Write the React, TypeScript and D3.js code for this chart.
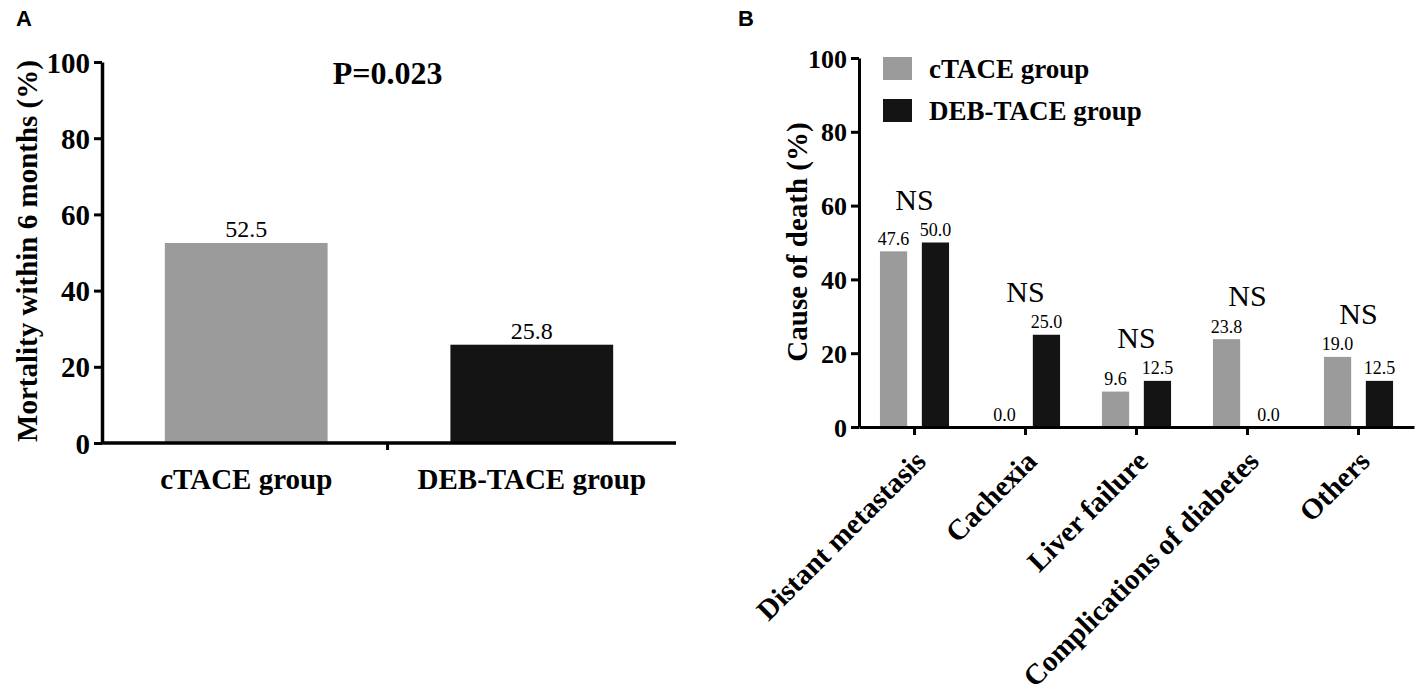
import * as d3 from 'd3';
import { useEffect, useRef } from 'react';

// Panel A
const groupsA = ['cTACE group', 'DEB-TACE group'];
const mortalityA = [52.5, 25.8];

// Panel B
const causesB = ['Distant metastasis', 'Cachexia', 'Liver failure', 'Complications of diabetes', 'Others'];
const seriesB = ['cTACE group', 'DEB-TACE group'];
const ctaceB = [47.6, 0.0, 9.6, 23.8, 19.0];
const debB = [50.0, 25.0, 12.5, 0.0, 12.5];
const sigB = ['NS', 'NS', 'NS', 'NS', 'NS'];

const yTicks = [0, 20, 40, 60, 80, 100];
const colors = ['#9b9b9b', '#141414'];
const serif = '"Liberation Serif", "Times New Roman", serif';

const App = () => {
  const ref = useRef<SVGSVGElement | null>(null);

  useEffect(() => {
    const svg = d3.select(ref.current).attr('width', 1417).attr('height', 697);
    svg.selectAll('*').remove();
    svg.append('rect').attr('width', 1417).attr('height', 697).attr('fill', '#fff');

    // panel letters
    svg.append('text').attr('x', 16).attr('y', 26).text('A')
      .attr('font-family', '"Liberation Sans", Arial, sans-serif').attr('font-weight', 'bold').attr('font-size', 22);
    svg.append('text').attr('x', 738).attr('y', 26).text('B')
      .attr('font-family', '"Liberation Sans", Arial, sans-serif').attr('font-weight', 'bold').attr('font-size', 22);

    // ---------- Panel A ----------
    const a = svg.append('g');
    const yA = d3.scaleLinear().domain([0, 100]).range([443, 62]);
    const xA = d3.scaleBand().domain(groupsA).range([102, 676]).paddingInner(0.43).paddingOuter(0.22);

    a.selectAll('rect.bar')
      .data(mortalityA)
      .enter()
      .append('rect')
      .attr('x', (_, i) => xA(groupsA[i])!)
      .attr('width', xA.bandwidth())
      .attr('y', d => yA(d))
      .attr('height', d => yA(0) - yA(d))
      .attr('fill', (_, i) => colors[i]);

    a.selectAll('text.val')
      .data(mortalityA)
      .enter()
      .append('text')
      .attr('x', (_, i) => xA(groupsA[i])! + xA.bandwidth() / 2)
      .attr('y', d => yA(d) - 6)
      .attr('text-anchor', 'middle')
      .attr('font-family', serif)
      .attr('font-size', 24)
      .text(d => d.toFixed(1));

    const yAxisA = a.append('g').attr('transform', 'translate(102,0)')
      .call(d3.axisLeft(yA).tickValues(yTicks).tickSize(8).tickSizeOuter(0));
    yAxisA.select('.domain').attr('stroke-width', 3.5);
    yAxisA.selectAll('line').attr('stroke-width', 3);
    yAxisA.selectAll('text').attr('font-family', serif).attr('font-weight', 'bold').attr('font-size', 29).attr('dx', -1).attr('dy', '0.35em');

    a.append('line').attr('x1', 102).attr('x2', 676).attr('y1', 443).attr('y2', 443)
      .attr('stroke', '#000').attr('stroke-width', 3.5);
    a.append('line').attr('x1', 102 + xA.step()).attr('x2', 102 + xA.step()).attr('y1', 443).attr('y2', 450)
      .attr('stroke', '#000').attr('stroke-width', 3);

    a.selectAll('text.cat')
      .data(groupsA)
      .enter()
      .append('text')
      .attr('x', d => xA(d)! + xA.bandwidth() / 2)
      .attr('y', 489)
      .attr('text-anchor', 'middle')
      .attr('font-family', serif)
      .attr('font-weight', 'bold')
      .attr('font-size', 29)
      .text(d => d);

    a.append('text')
      .attr('transform', 'translate(37,251) rotate(-90)')
      .attr('text-anchor', 'middle')
      .attr('font-family', serif)
      .attr('font-weight', 'bold')
      .attr('font-size', 29)
      .text('Mortality within 6 months (%)');

    a.append('text')
      .attr('x', 102 + xA.step())
      .attr('y', 84)
      .attr('text-anchor', 'middle')
      .attr('font-family', serif)
      .attr('font-weight', 'bold')
      .attr('font-size', 32)
      .text('P=0.023');

    // ---------- Panel B ----------
    const b = svg.append('g');
    const yB = d3.scaleLinear().domain([0, 100]).range([427, 58]);
    const xB = d3.scaleBand().domain(causesB).range([859, 1414]).padding(0);
    const xSub = d3.scaleBand().domain(seriesB).range([0, xB.bandwidth()]).paddingInner(0.35).paddingOuter(0.5);
    const valsB = [ctaceB, debB];

    seriesB.forEach((s, si) => {
      b.selectAll(`rect.s${si}`)
        .data(valsB[si])
        .enter()
        .append('rect')
        .attr('x', (_, i) => xB(causesB[i])! + xSub(s)!)
        .attr('width', xSub.bandwidth())
        .attr('y', d => yB(d))
        .attr('height', d => yB(0) - yB(d))
        .attr('fill', colors[si]);

      b.selectAll(`text.v${si}`)
        .data(valsB[si])
        .enter()
        .append('text')
        .attr('x', (_, i) => xB(causesB[i])! + xSub(s)! + xSub.bandwidth() / 2)
        .attr('y', d => yB(d) - 6.5)
        .attr('text-anchor', 'middle')
        .attr('font-family', serif)
        .attr('font-size', 18)
        .text(d => d.toFixed(1));
    });

    b.selectAll('text.ns')
      .data(sigB)
      .enter()
      .append('text')
      .attr('x', (_, i) => xB(causesB[i])! + xB.bandwidth() / 2)
      .attr('y', (_, i) => yB(Math.max(ctaceB[i], debB[i])) - 33)
      .attr('text-anchor', 'middle')
      .attr('font-family', serif)
      .attr('font-size', 30)
      .text(d => d);

    const yAxisB = b.append('g').attr('transform', 'translate(859,0)')
      .call(d3.axisLeft(yB).tickValues(yTicks).tickSize(8).tickSizeOuter(0));
    yAxisB.select('.domain').attr('stroke-width', 3);
    yAxisB.selectAll('line').attr('stroke-width', 3);
    yAxisB.selectAll('text').attr('font-family', serif).attr('font-weight', 'bold').attr('font-size', 26).attr('dx', -1).attr('dy', '0.35em');

    const xAxisB = b.append('g').attr('transform', 'translate(0,427)')
      .call(d3.axisBottom(xB).tickSize(8).tickSizeOuter(0));
    xAxisB.select('.domain').attr('stroke-width', 3);
    xAxisB.selectAll('line').attr('stroke-width', 3);
    xAxisB.selectAll('text')
      .attr('font-family', serif)
      .attr('font-weight', 'bold')
      .attr('font-size', 29)
      .attr('text-anchor', 'end')
      .attr('y', 0)
      .attr('dy', 0)
      .attr('transform', 'translate(13,36) rotate(-45)');

    b.append('text')
      .attr('transform', 'translate(807,242) rotate(-90)')
      .attr('text-anchor', 'middle')
      .attr('font-family', serif)
      .attr('font-weight', 'bold')
      .attr('font-size', 29)
      .text('Cause of death (%)');

    // legend
    const leg = b.append('g');
    seriesB.forEach((s, i) => {
      leg.append('rect').attr('x', 883).attr('y', 57 + i * 42).attr('width', 29).attr('height', 23).attr('fill', colors[i]);
      leg.append('text').attr('x', 929).attr('y', 78 + i * 42)
        .attr('font-family', serif).attr('font-weight', 'bold').attr('font-size', 27).text(s);
    });
  }, []);

  return <svg ref={ref} style={{ position: 'absolute', left: 0, top: 0 }}></svg>;
};

export default App;
